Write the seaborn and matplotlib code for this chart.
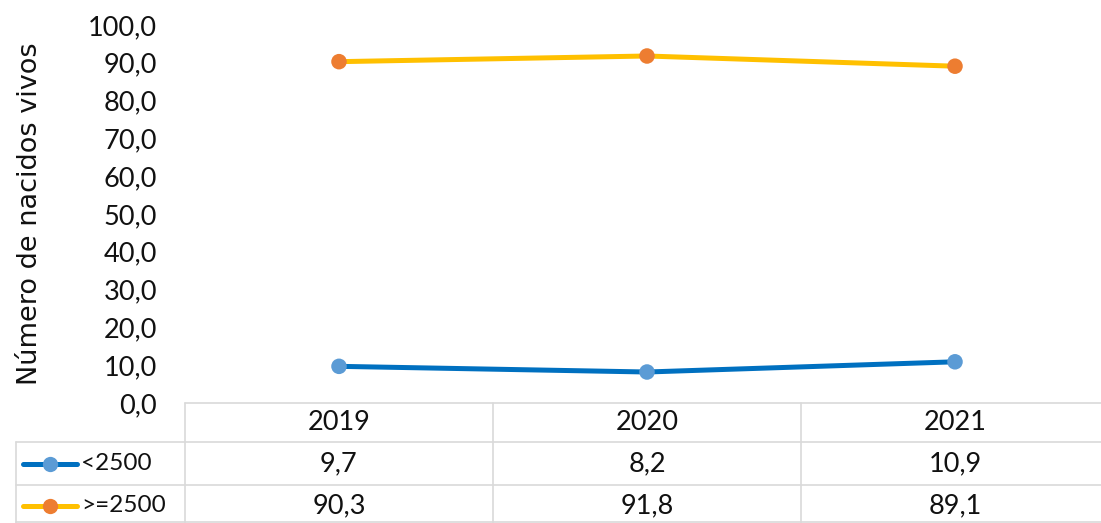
import matplotlib
matplotlib.use("Agg")
import matplotlib.pyplot as plt
import matplotlib.transforms as mtransforms
from matplotlib.ticker import FuncFormatter, MultipleLocator
import seaborn as sns
import pandas as pd

years = ["2019", "2020", "2021"]
series_names = ["<2500", ">=2500"]
values_low = [9.7, 8.2, 10.9]
values_high = [90.3, 91.8, 89.1]
line_colors = ["#0070C0", "#FFC000"]
marker_colors = ["#5B9BD5", "#ED7D31"]
y_label = "Número de nacidos vivos"

sns.set_theme(style="white")
plt.rcParams["font.family"] = ["Lato", "DejaVu Sans"]

FS = 19.5
TXT = "#111111"
W, H = 1101, 523
fig = plt.figure(figsize=(W / 100, H / 100), dpi=100)
left_px, right_px, top_px, bot_px = 185, 1109, 25, 403
ax = fig.add_axes([left_px / W, 1 - bot_px / H, (right_px - left_px) / W, (bot_px - top_px) / H])

df = pd.DataFrame({
    "x": list(range(len(years))) * 2,
    "value": values_low + values_high,
    "serie": [series_names[0]] * len(years) + [series_names[1]] * len(years),
})

sns.lineplot(data=df, x="x", y="value", hue="serie", palette=line_colors,
             linewidth=3.6, legend=False, ax=ax, zorder=2)
sns.scatterplot(data=df, x="x", y="value", hue="serie", palette=marker_colors,
                s=125, linewidth=0, legend=False, ax=ax, zorder=3)

ax.set_xlim(-0.5, len(years) - 0.5)
ax.set_ylim(0, 100)
ax.yaxis.set_major_locator(MultipleLocator(10))
ax.yaxis.set_major_formatter(FuncFormatter(lambda v, p: f"{v:.1f}".replace(".", ",")))
ax.tick_params(axis="y", length=0, pad=20, labelsize=FS, labelcolor=TXT)
ax.set_xticks([])
ax.set_xlabel("")
ax.set_ylabel(y_label, fontsize=19.5, color=TXT, family=["DejaVu Sans"])
ax.yaxis.label.set_verticalalignment("center")
ax.yaxis.set_label_coords((30 - left_px) / (right_px - left_px), 0.5)
for s in ax.spines.values():
    s.set_visible(False)

# data table below the axis
grid_c = "#D9D9D9"
lw = 1.2
axh = bot_px - top_px
def ay(px):
    return -(px - bot_px) / axh

def axx(px):
    return (px - left_px) / (right_px - left_px)

tr = mtransforms.blended_transform_factory(ax.transData, ax.transAxes)
tra = ax.transAxes
left_col = axx(16)

ax.plot([-0.5, len(years) - 0.5], [0, 0], transform=tr, color=grid_c, lw=lw, clip_on=False)
for ypx in (442, 485, 522):
    ax.plot([left_col, 1], [ay(ypx), ay(ypx)], transform=tra, color=grid_c, lw=lw, clip_on=False)
for i in range(len(years)):
    ax.plot([i - 0.5, i - 0.5], [0, ay(523)], transform=tr, color=grid_c, lw=lw, clip_on=False)
ax.plot([left_col, left_col], [ay(442), ay(523)], transform=tra, color=grid_c, lw=lw, clip_on=False)

for i, yr in enumerate(years):
    ax.text(i, ay(423), yr, transform=tr, ha="center", va="center", fontsize=FS, color=TXT, clip_on=False)

rows = [values_low, values_high]
row_y = [464, 506]
for r, (name, vals) in enumerate(zip(series_names, rows)):
    yy = ay(row_y[r])
    ax.plot([axx(23), axx(77)], [yy, yy], transform=tra, color=line_colors[r], lw=3.6,
            solid_capstyle="round", clip_on=False)
    ax.plot([axx(50)], [yy], transform=tra, marker="o", markersize=11, color=marker_colors[r],
            markeredgewidth=0, clip_on=False)
    ax.text(axx(81), yy, name, transform=tra, ha="left", va="center",
            fontsize=17.5, color=TXT, clip_on=False)
    for i, v in enumerate(vals):
        ax.text(i, yy, f"{v:.1f}".replace(".", ","), transform=tr, ha="center", va="center",
                fontsize=FS, color=TXT, clip_on=False)

fig.savefig("out.png", dpi=100)
